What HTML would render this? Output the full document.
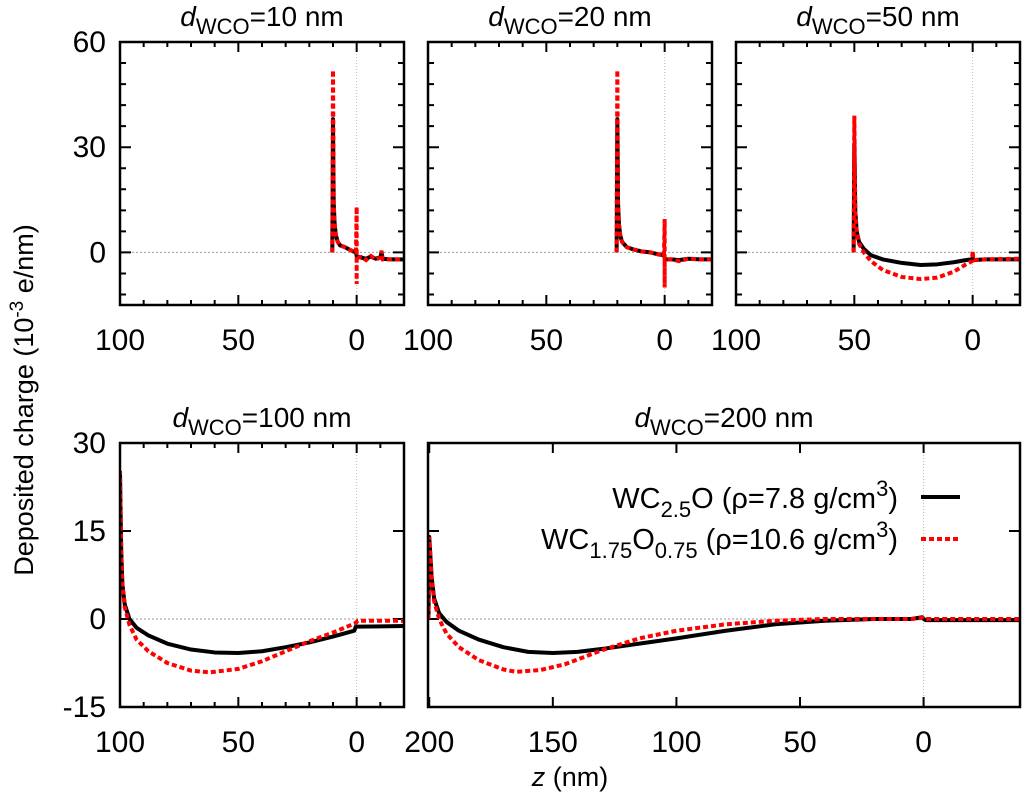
<!DOCTYPE html>
<html><head><meta charset="utf-8"><style>
html,body{margin:0;padding:0;background:#fff}
svg{display:block;font-family:"Liberation Sans",sans-serif}
</style></head><body>
<svg id="c" width="1024" height="795" viewBox="0 0 1024 795" xmlns="http://www.w3.org/2000/svg">
<text x="33" y="400" font-size="27" text-anchor="middle" transform="rotate(-90 33 400)">Deposited charge (10<tspan dy="-10" font-size="19">-3</tspan><tspan dy="10"> e/nm)</tspan></text>
<text x="570" y="786" font-size="27" text-anchor="middle"><tspan font-style="italic">z</tspan> (nm)</text>
</svg>
<script>
// ---- data (z in nm, charge in 1e-3 e/nm) ----
const titles = ["10","20","50","100","200"];
const z10 = [10.3,10,9.7,9.3,8.8,8,7,5,3,1.5,0.3,0,-0.3,-2,-4,-6,-8,-10,-10.5,-11,-14,-20];
const black10 = [0,38,14,8,5,3,2,1.5,0.8,0.3,0,-1,-1.2,-1.5,-1.8,-1.2,-1.8,-1.4,0,-1.8,-2,-2];
const zr10 = [10.3,10,9.7,9.3,8.8,8,7,5,3,1.5,0.3,0,0,0,-0.3,-2,-4,-6,-8,-10,-10.5,-11,-14,-20];
const red10 = [0,52,14,8,5,3,2,1.5,0.8,0.3,0,13,-9,-1,-1.5,-1.3,-2.2,-1,-2,-1.5,0.5,-2,-2,-2];
const z20 = [20.3,20,19.7,19.3,18.8,18,16,13,10,6,3,0.3,0,-0.3,-3,-6,-10,-15,-20];
const black20 = [0,38,14,8,5,3,1.5,0.8,0.3,0,-0.5,-0.8,-1.5,-2,-2,-2.2,-1.8,-2,-2];
const zr20 = [20.3,20,19.7,19.3,18.8,18,16,13,10,6,3,0.3,0,0,0,-0.3,-3,-6,-10,-15,-20];
const red20 = [0,52,14,8,5,3,1.5,0.8,0.3,0,-0.5,-1,9.5,-10,-2,-2,-2,-2.5,-1.8,-2,-2];
const z50 = [50.3,50,49.6,49,48,46,43,38,30,22,15,8,3,0.3,0,-0.3,-5,-20];
const black50 = [0,31,12,6,3,1,-0.8,-2,-3,-3.6,-3.4,-2.8,-2.2,-2,-1.5,-2.2,-2,-2];
const zr50 = [50.3,50,49.6,49,48,46,43,38,30,22,15,8,3,0.3,0,-0.3,-5,-20];
const red50 = [0,39,12,6,2.5,0,-2.5,-5,-7,-7.6,-7.2,-5.5,-3.5,-2.5,0.5,-2.2,-2,-1.8];
const z100 = [100.3,100,99.5,99,98,96,93,88,80,70,60,50,40,30,20,10,1,0.3,0,-0.5,-20];
const black100 = [0,25,12,6,2.5,0,-1.5,-2.8,-4.2,-5.2,-5.7,-5.8,-5.5,-4.8,-4,-3,-2,-1.2,-1.3,-1.3,-1.2];
const zr100 = [100.3,100,99.5,99,98,96,93,88,80,70,62,50,40,30,20,10,1,0,-0.5,-20];
const red100 = [0,25,12,6,2,-1,-3.5,-5.5,-7.5,-8.8,-9.1,-8.5,-7.2,-5.5,-3.8,-2.3,-0.8,-0.5,-0.3,-0.3];
const z200 = [200.3,200,199,198,196,193,188,180,170,160,150,140,130,115,100,80,60,40,20,5,0.5,0,-1,-40];
const black200 = [0,14,7,3.5,1,-0.5,-2,-3.5,-4.8,-5.6,-5.8,-5.6,-5.1,-4.2,-3.3,-2,-0.9,-0.3,0,0,0.3,0,-0.2,-0.2];
const zr200 = [200.3,200,199,198,196,193,188,180,170,165,155,145,130,115,100,80,60,40,20,5,0.5,0,-1,-40];
const red200 = [0,14,7,3,0,-2.5,-4.8,-7,-8.6,-9,-8.7,-7.7,-5.3,-3.3,-2,-0.9,-0.3,0,0,0,0.2,0,0,0];
const topYTicks = [60,30,0];
const botYTicks = [30,15,0,-15];

const NS="http://www.w3.org/2000/svg";
const svg=document.getElementById('c');
function mk(tag,attrs,parent){const e=document.createElementNS(NS,tag);for(const k in attrs)e.setAttribute(k,attrs[k]);(parent||svg).appendChild(e);return e;}

const panels=[
 {x0:120,x1:404,y0:42,y1:305,zd:[100,-20],yd:[60,-15],yt:topYTicks,ym:6,xl:[100,50,0],xm:10,yl:true,zb:z10,b:black10,zr:zr10,r:red10,t:titles[0]},
 {x0:428,x1:712,y0:42,y1:305,zd:[100,-20],yd:[60,-15],yt:topYTicks,ym:6,xl:[100,50,0],xm:10,yl:false,zb:z20,b:black20,zr:zr20,r:red20,t:titles[1]},
 {x0:736,x1:1020,y0:42,y1:305,zd:[100,-20],yd:[60,-15],yt:topYTicks,ym:6,xl:[100,50,0],xm:10,yl:false,zb:z50,b:black50,zr:zr50,r:red50,t:titles[2]},
 {x0:120,x1:404,y0:443,y1:707,zd:[100,-20],yd:[30,-15],yt:botYTicks,ym:0,xl:[100,50,0],xm:10,yl:true,zb:z100,b:black100,zr:zr100,r:red100,t:titles[3]},
 {x0:428,x1:1020,y0:443,y1:707,zd:[200.5,-39],yd:[30,-15],yt:botYTicks,ym:0,xl:[200,150,100,50,0],xm:0,yl:false,zb:z200,b:black200,zr:zr200,r:red200,t:titles[4]}
];

panels.forEach((p,i)=>{
 const g=mk('g',{});
 
 
 const X=z=>p.x0+(p.zd[0]-z)/(p.zd[0]-p.zd[1])*(p.x1-p.x0);
 const Y=v=>p.y0+(p.yd[0]-v)/(p.yd[0]-p.yd[1])*(p.y1-p.y0);
 const t=mk('text',{x:(p.x0+p.x1)/2,y:p.y0-16,'font-size':28,'text-anchor':'middle'},g);
 
 
 t.innerHTML='<tspan font-style="italic">d</tspan><tspan dy="8" font-size="22">WCO</tspan><tspan dy="-8">='+p.t+' nm</tspan>';
 const zl=mk('line',{x1:p.x0,x2:p.x1,y1:Y(0),y2:Y(0),stroke:'#999','stroke-width':1,'stroke-dasharray':'2,2'},g);
 
 
 const vl=mk('line',{x1:X(0),x2:X(0),y1:p.y0,y2:p.y1,stroke:'#bbb','stroke-width':1,'stroke-dasharray':'1,2'},g);
 
 
 let d='';
 const zmin=Math.min(...p.zd),zmax=Math.max(...p.zd);
 if(p.xm){for(let z=Math.ceil(zmin/p.xm)*p.xm;z<=zmax;z+=p.xm){const x=X(z);if(x<p.x0+1||x>p.x1-1)continue;d+=`M${x},${p.y1}v-5M${x},${p.y0}v5`;}}
 for(let z=Math.ceil(zmin/50)*50;z<=zmax;z+=50){const x=X(z);if(x<p.x0+1||x>p.x1-1)continue;d+=`M${x},${p.y1}v-10M${x},${p.y0}v10`;}
 const ymn=Math.min(...p.yd),ymx=Math.max(...p.yd);
 if(p.ym){for(let v=Math.ceil(ymn/p.ym)*p.ym;v<=ymx;v+=p.ym){const y=Y(v);if(y<p.y0+1||y>p.y1-1)continue;d+=`M${p.x0},${y}h6M${p.x1},${y}h-6`;}}
 p.yt.forEach(v=>{const y=Y(v);if(y<p.y0+1||y>p.y1-1)return;d+=`M${p.x0},${y}h11M${p.x1},${y}h-11`;});
 const tk=mk('path',{d:d,stroke:'#000','stroke-width':2,fill:'none'},g);
 
 
 p.xl.forEach(z=>{const e=mk('text',{x:X(z),y:p.y1+45,'font-size':30,'text-anchor':'middle'},g);e.textContent=z;
  
  });
 if(p.yl){p.yt.forEach(v=>{const e=mk('text',{x:p.x0-14,y:Y(v)+10,'font-size':30,'text-anchor':'end'},g);e.textContent=v;
  
  });}
 const clipId='cl'+i;
 const cp=mk('clipPath',{id:clipId},g);mk('rect',{x:p.x0,y:p.y0,width:p.x1-p.x0,height:p.y1-p.y0},cp);
 const pb=mk('polyline',{points:p.zb.map((z,k)=>X(z)+','+Y(p.b[k])).join(' '),fill:'none',stroke:'#000','stroke-width':4,'stroke-linejoin':'round','clip-path':`url(#${clipId})`},g);
 
 
 const pr=mk('polyline',{points:p.zr.map((z,k)=>X(z)+','+Y(p.r[k])).join(' '),fill:'none',stroke:'#f00','stroke-width':4,'stroke-dasharray':'5,3','clip-path':`url(#${clipId})`},g);
 
 
 const fr=mk('rect',{x:p.x0,y:p.y0,width:p.x1-p.x0,height:p.y1-p.y0,fill:'none',stroke:'#000','stroke-width':2.5},g);
 
 
});

const lg=mk('g',{});


const l1=mk('text',{x:898,y:508,'font-size':29,'text-anchor':'end'},lg);


l1.innerHTML='WC<tspan dy="9" font-size="22">2.5</tspan><tspan dy="-9">O (ρ=7.8 g/cm</tspan><tspan dy="-12" font-size="22">3</tspan><tspan dy="12">)</tspan>';
const l2=mk('text',{x:898,y:549,'font-size':29,'text-anchor':'end'},lg);


l2.innerHTML='WC<tspan dy="9" font-size="22">1.75</tspan><tspan dy="-9">O</tspan><tspan dy="9" font-size="22">0.75</tspan><tspan dy="-9"> (ρ=10.6 g/cm</tspan><tspan dy="-12" font-size="22">3</tspan><tspan dy="12">)</tspan>';
const s1=mk('line',{x1:921,x2:960,y1:497,y2:497,stroke:'#000','stroke-width':4},lg);


const s2=mk('line',{x1:921,x2:960,y1:539,y2:539,stroke:'#f00','stroke-width':4,'stroke-dasharray':'5,3'},lg);


</script>
</body></html>
